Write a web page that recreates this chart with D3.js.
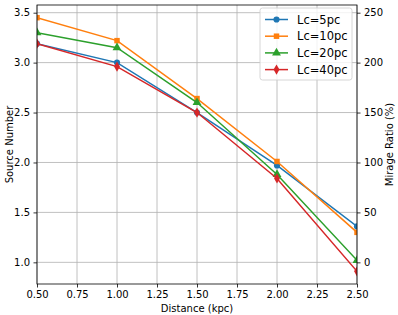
<!DOCTYPE html>
<html>
<head>
<meta charset="utf-8">
<script src="https://cdn.jsdelivr.net/npm/d3@7"></script>
<style>
  body { margin: 0; background: #fff; }
  svg text { font-family: "DejaVu Sans", sans-serif; fill: #000; }
</style>
</head>
<body>
<div id="viz"></div>
<script>
const distances = [0.5, 1.0, 1.5, 2.0, 2.5];
const seriesNames = ["Lc=5pc", "Lc=10pc", "Lc=20pc", "Lc=40pc"];
const lc5 = [3.19, 3.00, 2.50, 1.97, 1.36];
const lc10 = [3.45, 3.22, 2.64, 2.01, 1.30];
const lc20 = [3.30, 3.15, 2.60, 1.88, 1.02];
const lc40 = [3.19, 2.96, 2.50, 1.84, 0.91];
const colors = ["#1f77b4", "#ff7f0e", "#2ca02c", "#d62728"];
const markers = [d3.symbolCircle, d3.symbolSquare, d3.symbolTriangle, d3.symbolDiamond];
const xTicks = [0.5, 0.75, 1.0, 1.25, 1.5, 1.75, 2.0, 2.25, 2.5];
const leftTicks = [1.0, 1.5, 2.0, 2.5, 3.0, 3.5];
const rightTicks = [0, 50, 100, 150, 200, 250];

const allSeries = [lc5, lc10, lc20, lc40];

const width = 398, height = 315;
const margin = {top: 5, right: 41, bottom: 31, left: 37};
const iw = width - margin.left - margin.right;
const ih = height - margin.top - margin.bottom;

const svg = d3.select("#viz").append("svg")
  .attr("width", width).attr("height", height);

const g = svg.append("g")
  .attr("transform", `translate(${margin.left},${margin.top})`);

// y limits with 5% padding like matplotlib
const allVals = allSeries.flat();
const yMin = d3.min(allVals), yMax = d3.max(allVals);
const pad = (yMax - yMin) * 0.05;

const x = d3.scaleLinear().domain([0.5, 2.5]).range([0, iw]);
const y = d3.scaleLinear().domain([yMin - pad, yMax + pad]).range([ih, 0]);
// mirage ratio is (source number - 1) * 100
const yR = d3.scaleLinear().domain([(yMin - pad - 1) * 100, (yMax + pad - 1) * 100]).range([ih, 0]);

// grid
g.append("g").selectAll("line").data(xTicks).enter().append("line")
  .attr("x1", d => x(d)).attr("x2", d => x(d))
  .attr("y1", 0).attr("y2", ih)
  .attr("stroke", "#b0b0b0").attr("stroke-width", 0.8);
g.append("g").selectAll("line").data(leftTicks).enter().append("line")
  .attr("x1", 0).attr("x2", iw)
  .attr("y1", d => y(d)).attr("y2", d => y(d))
  .attr("stroke", "#b0b0b0").attr("stroke-width", 0.8);

svg.append("clipPath").attr("id", "clip")
  .append("rect").attr("width", iw).attr("height", ih);

const plot = g.append("g").attr("clip-path", "url(#clip)");

const line = d3.line()
  .x((d, i) => x(distances[i]))
  .y(d => y(d));

allSeries.forEach((s, k) => {
  plot.append("path")
    .datum(s)
    .attr("d", line)
    .attr("fill", "none")
    .attr("stroke", colors[k])
    .attr("stroke-width", 1.5);
  plot.selectAll(".m" + k).data(s).enter().append("path")
    .attr("class", "m" + k)
    .attr("transform", (d, i) => `translate(${x(distances[i])},${y(d)})`)
    .attr("d", d3.symbol().type(markers[k]).size(k == 2 ? 34 : 30))
    .attr("fill", colors[k]);
});

// axes
const xAxis = g.append("g")
  .attr("transform", `translate(0,${ih})`)
  .call(d3.axisBottom(x).tickValues(xTicks).tickFormat(d3.format(".2f")).tickSizeOuter(0).tickSize(3.5).tickPadding(3.5));
const yAxis = g.append("g")
  .call(d3.axisLeft(y).tickValues(leftTicks).tickFormat(d3.format(".1f")).tickSizeOuter(0).tickSize(3.5).tickPadding(3.5));
const yAxisR = g.append("g")
  .attr("transform", `translate(${iw},0)`)
  .call(d3.axisRight(yR).tickValues(rightTicks).tickFormat(d3.format("d")).tickSizeOuter(0).tickSize(3.5).tickPadding(3.5));

[xAxis, yAxis, yAxisR].forEach(a => {
  a.selectAll("text").style("font-size", "10px");
  a.selectAll(".tick line").attr("stroke", "#000").attr("stroke-width", 0.8);
  a.select(".domain").remove();
});

// frame
g.append("rect")
  .attr("width", iw).attr("height", ih)
  .attr("fill", "none").attr("stroke", "#000").attr("stroke-width", 0.8);

// labels
svg.append("text")
  .attr("x", margin.left + iw / 2).attr("y", height - 3)
  .attr("text-anchor", "middle").style("font-size", "10px")
  .text("Distance (kpc)");
svg.append("text")
  .attr("transform", `translate(13,${margin.top + ih / 2}) rotate(-90)`)
  .attr("text-anchor", "middle").style("font-size", "10px")
  .text("Source Number");
svg.append("text")
  .attr("transform", `translate(${width - 5},${margin.top + ih / 2}) rotate(-90)`)
  .attr("text-anchor", "middle").style("font-size", "10px")
  .text("Mirage Ratio (%)");

// legend
const leg = g.append("g").attr("transform", `translate(${iw - 97},3)`);
leg.append("rect")
  .attr("width", 92).attr("height", 72).attr("rx", 2.5)
  .attr("fill", "#fff").attr("fill-opacity", 0.8)
  .attr("stroke", "#cccccc").attr("stroke-width", 0.8);
seriesNames.forEach((name, k) => {
  const yy = 11.5 + k * 16.7;
  leg.append("line")
    .attr("x1", 5).attr("x2", 28).attr("y1", yy).attr("y2", yy)
    .attr("stroke", colors[k]).attr("stroke-width", 1.5);
  leg.append("path")
    .attr("transform", `translate(16.5,${yy})`)
    .attr("d", d3.symbol().type(markers[k]).size(k == 2 ? 34 : 30))
    .attr("fill", colors[k]);
  leg.append("text")
    .attr("x", 37).attr("y", yy + 4)
    .style("font-size", "11.5px")
    .text(name);
});
</script>
</body>
</html>
